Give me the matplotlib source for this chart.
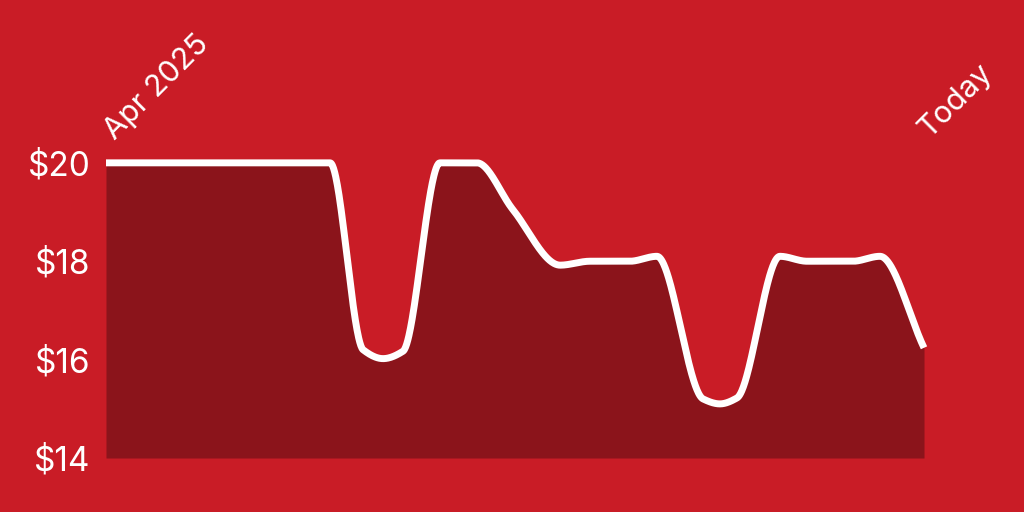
import numpy as np
import matplotlib.pyplot as plt

# price history, x = days since start of April 2025
days = [0, 63, 72.3, 77.9, 83.5, 93.9, 104.3, 114.4, 127.7, 136.1, 147.3,
        154.9, 167.9, 172.6, 177.4, 189.5, 197.1, 210, 217.6, 230]
price = [20, 20, 16.2, 16.02, 16.17, 20, 20, 19.05, 17.92, 18.0, 18.0,
         18.1, 15.2, 15.1, 15.22, 18.1, 18.0, 18.0, 18.1, 16.24]
y_ticks = [14, 16, 18, 20]
y_labels = ['$14', '$16', '$18', '$20']
start_label = 'Apr 2025'
end_label = 'Today'

bg = '#c91c26'
fill = '#8b141b'


def pchip(x, y, xs):
    x = np.asarray(x, float)
    y = np.asarray(y, float)
    h = np.diff(x)
    d = np.diff(y) / h
    m = np.zeros_like(y)
    m[0], m[-1] = d[0], d[-1]
    for k in range(1, len(x) - 1):
        if d[k - 1] * d[k] > 0:
            w1 = 2 * h[k] + h[k - 1]
            w2 = h[k] + 2 * h[k - 1]
            m[k] = (w1 + w2) / (w1 / d[k - 1] + w2 / d[k])
    i = np.clip(np.searchsorted(x, xs) - 1, 0, len(x) - 2)
    t = (xs - x[i]) / h[i]
    h00 = 2 * t**3 - 3 * t**2 + 1
    h10 = t**3 - 2 * t**2 + t
    h01 = -2 * t**3 + 3 * t**2
    h11 = t**3 - t**2
    return h00 * y[i] + h10 * h[i] * m[i] + h01 * y[i + 1] + h11 * h[i] * m[i + 1]


xs = np.linspace(days[0], days[-1], 1500)
ys = pchip(days, price, xs)

plt.rcParams['font.family'] = ['Inter', 'DejaVu Sans']
fig = plt.figure(figsize=(10.24, 5.12), dpi=100, facecolor=bg)
ax = fig.add_axes([106 / 1024, 54 / 512, 818 / 1024, 305 / 512])
ax.set_facecolor(bg)

ax.fill_between(xs, ys, 14, color=fill, lw=0)
ax.plot(xs, ys, color='white', lw=5, solid_capstyle='butt',
        solid_joinstyle='round', clip_on=False)

ax.set_xlim(days[0], days[-1])
ax.set_ylim(14, 20.2)
ax.set_yticks(y_ticks)
ax.set_yticklabels(y_labels)
ax.set_xticks([])
ax.tick_params(axis='y', length=0, pad=11, labelsize=24, labelcolor='white')
for s in ax.spines.values():
    s.set_visible(False)

ax.text(days[0] + 2.5, 20.45, start_label, rotation=45, rotation_mode='anchor',
        ha='left', va='baseline', fontsize=22, color='white', clip_on=False)
ax.text(days[-1] + 1.5, 20.48, end_label, rotation=45, rotation_mode='anchor',
        ha='left', va='baseline', fontsize=22, color='white', clip_on=False)

fig.savefig('out.png', dpi=100, facecolor=bg)
